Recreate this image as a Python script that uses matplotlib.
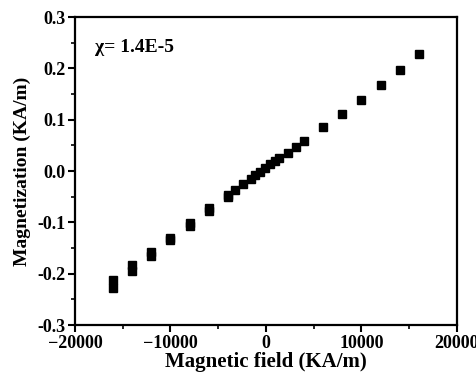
import matplotlib
matplotlib.use("Agg")
import matplotlib.pyplot as plt
from matplotlib.ticker import MultipleLocator, FormatStrFormatter

field = [-16000, -16000, -14000, -14000, -12000, -12000, -10000, -10000,
         -8000, -8000, -6000, -6000, -4000, -4000, -3200, -2400, -1600,
         -1100, -600, -100, 400, 900, 1400, 2300, 3100, 4000,
         6000, 8000, 10000, 12000, 14000, 16000]
magnetization = [-0.2125, -0.2275, -0.183, -0.194, -0.158, -0.165, -0.130, -0.135,
                 -0.101, -0.108, -0.072, -0.077, -0.046, -0.050, -0.037, -0.026, -0.016,
                 -0.008, -0.001, 0.005, 0.014, 0.020, 0.026, 0.036, 0.047, 0.058,
                 0.085, 0.112, 0.138, 0.168, 0.197, 0.227]
annotation = "\u03c7= 1.4E-5"
x_label = "Magnetic field (KA/m)"
y_label = "Magnetization (KA/m)"

plt.rcParams['font.family'] = ['Liberation Serif', 'DejaVu Serif']
plt.rcParams['font.weight'] = 'bold'

fig = plt.figure(figsize=(4.77, 3.74), dpi=100)
ax = fig.add_axes([0.157, 0.131, 0.801, 0.8235])
ax.plot(field, magnetization, linestyle='none', marker='s', markersize=5.2,
        color='black')
ax.set_xlim(-20000, 20000)
ax.set_ylim(-0.3, 0.3)
ax.xaxis.set_major_locator(MultipleLocator(10000))
ax.xaxis.set_minor_locator(MultipleLocator(5000))
ax.yaxis.set_major_locator(MultipleLocator(0.1))
ax.yaxis.set_minor_locator(MultipleLocator(0.05))
ax.yaxis.set_major_formatter(FormatStrFormatter('%.1f'))
ax.tick_params(which='major', direction='out', length=5, width=1.5, labelsize=13, pad=2)
ax.tick_params(which='minor', direction='out', length=3, width=1.2)
for s in ax.spines.values():
    s.set_linewidth(1.6)
for lab in ax.get_xticklabels() + ax.get_yticklabels():
    lab.set_fontweight('bold')
ax.set_xlabel(x_label, fontsize=15, fontweight='bold', labelpad=0)
ax.set_ylabel(y_label, fontsize=14, fontweight='bold', labelpad=4)
ax.text(0.053, 0.9, annotation, transform=ax.transAxes, fontsize=14,
        fontweight='bold', ha='left', va='center')
fig.savefig("out.png", dpi=100)
